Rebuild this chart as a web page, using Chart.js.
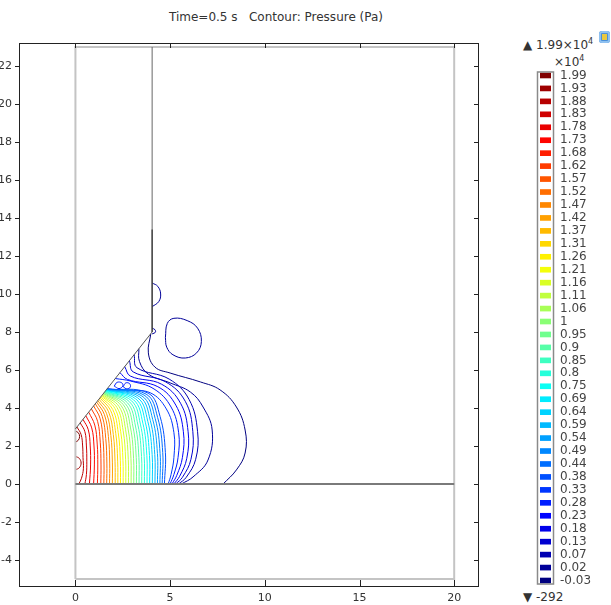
<!DOCTYPE html>
<html>
<head>
<meta charset="utf-8">
<script src="https://cdn.jsdelivr.net/npm/chart.js@4.4.0/dist/chart.umd.min.js"></script>
<style>
  body { margin: 0; background: #fff; width: 611px; height: 605px; overflow: hidden; position: relative; font-family: "DejaVu Sans", sans-serif; color: #333; }
  #plot { position: absolute; left: 0; top: 0; }
  #bar { position: absolute; left: 500px; top: 0; }
  #title { position: absolute; left: 0; top: 10px; width: 552px; text-align: center; font-size: 12px; white-space: pre; }
  .lbl { position: absolute; font-size: 12px; white-space: nowrap; }
  .lbl sup { font-size: 8px; }
  #icon { position: absolute; left: 599px; top: 31px; width: 11px; height: 12px; border-radius: 3px; background: #4a8fd8; box-shadow: inset 0 0 0 2px #8fc1f0; }
  #icon::after { content: ""; position: absolute; left: 3px; top: 3px; width: 5px; height: 6px; background: #e8c840; }
</style>
</head>
<body>
<div id="title">Time=0.5 s   Contour: Pressure (Pa)</div>
<div id="icon"></div>
<div class="lbl" id="maxLbl" style="left:523px;top:37px"></div>
<div class="lbl" style="left:554px;top:54px">×10<sup>4</sup></div>
<div class="lbl" id="minLbl" style="left:523px;top:590px"></div>
<canvas id="plot" width="500" height="605"></canvas>
<canvas id="bar" width="111" height="605"></canvas>
<script>
// axis ticks
const xTicks = [0, 5, 10, 15, 20];
const yTicks = [-4, -2, 0, 2, 4, 6, 8, 10, 12, 14, 16, 18, 20, 22];

// contour levels (x10^4 Pa), top of the colour legend first
const levels = [1.99, 1.93, 1.88, 1.83, 1.78, 1.73, 1.68, 1.62, 1.57, 1.52, 1.47, 1.42, 1.37, 1.31,
  1.26, 1.21, 1.16, 1.11, 1.06, 1, 0.95, 0.9, 0.85, 0.8, 0.75, 0.69, 0.64, 0.59, 0.54, 0.49, 0.44,
  0.38, 0.33, 0.28, 0.23, 0.18, 0.13, 0.07, 0.02, -0.03];
const pMax = 19900; // Pa
const pMin = -292;  // Pa

// geometry outline
const domainBox = [[0, -5], [20, -5], [20, 23], [0, 23], [0, -5]];
const floorLine = [[0, 0], [20, 0]];
const rampWall = [[0, 2.9], [4.05, 8]];
const upperWall = [[4.05, 8], [4.05, 23]];
const plateWall = [[4.05, 8], [4.05, 13.4]];

// high pressure lines close to the left wall
const nearWallLines = [
  { v: 1.99, pts: [[0, 2.2], [0.15, 2.3], [0.22, 2.5], [0.15, 2.7], [0, 2.78]] },
  { v: 1.93, pts: [[0, 0.75], [0.2, 0.85], [0.3, 1.1], [0.2, 1.35], [0, 1.45]] },
  { v: 1.88, pts: [[0.08, 3.0], [0.3, 2.6], [0.38, 2.0], [0.4, 1.4], [0.42, 0.8], [0.32, 0.3], [0.18, 0]] },
  { v: 1.83, pts: [[0.25, 3.22], [0.5, 2.75], [0.58, 2.0], [0.6, 1.2], [0.58, 0.5], [0.5, 0]] },
  { v: 1.78, pts: [[0.4, 3.4], [0.68, 2.85], [0.78, 2.0], [0.8, 1.0], [0.74, 0]] },
  { v: 1.73, pts: [[0.55, 3.59], [0.86, 2.95], [0.98, 2.0], [1.0, 1.0], [0.96, 0]] },
  { v: 1.68, pts: [[0.7, 3.78], [1.02, 3.1], [1.15, 2.1], [1.18, 1.0], [1.16, 0]] }
];

// the fan of lines from the ramp down to the floor
const fanLines = [
  { v: 1.62, pts: [[0.84, 3.96], [1.17, 3.3], [1.31, 2.2], [1.35, 1.0], [1.34, 0]] },
  { v: 1.57, pts: [[0.96, 4.11], [1.3, 3.45], [1.46, 2.3], [1.51, 1.0], [1.5, 0]] },
  { v: 1.52, pts: [[1.05, 4.22], [1.42, 3.55], [1.6, 2.4], [1.66, 1.1], [1.65, 0]] },
  { v: 1.47, pts: [[1.12, 4.31], [1.53, 3.65], [1.74, 2.5], [1.81, 1.1], [1.8, 0]] },
  { v: 1.42, pts: [[1.18, 4.39], [1.64, 3.72], [1.87, 2.55], [1.95, 1.15], [1.95, 0]] },
  { v: 1.37, pts: [[1.24, 4.46], [1.75, 3.8], [2.0, 2.6], [2.09, 1.2], [2.1, 0]] },
  { v: 1.31, pts: [[1.29, 4.53], [1.86, 3.86], [2.13, 2.65], [2.23, 1.2], [2.24, 0]] },
  { v: 1.26, pts: [[1.33, 4.58], [1.97, 3.92], [2.26, 2.7], [2.37, 1.25], [2.38, 0]] },
  { v: 1.21, pts: [[1.37, 4.63], [2.08, 3.98], [2.39, 2.75], [2.51, 1.25], [2.52, 0]] },
  { v: 1.16, pts: [[1.4, 4.66], [2.19, 4.03], [2.52, 2.8], [2.65, 1.3], [2.66, 0]] },
  { v: 1.11, pts: [[1.43, 4.7], [2.3, 4.08], [2.65, 2.85], [2.79, 1.3], [2.8, 0]] },
  { v: 1.06, pts: [[1.46, 4.74], [2.41, 4.13], [2.78, 2.9], [2.93, 1.35], [2.94, 0]] },
  { v: 1, pts: [[1.48, 4.76], [2.52, 4.18], [2.91, 2.95], [3.07, 1.35], [3.08, 0]] },
  { v: 0.95, pts: [[1.5, 4.79], [2.63, 4.23], [3.04, 3.0], [3.21, 1.4], [3.22, 0]] },
  { v: 0.9, pts: [[1.52, 4.82], [2.74, 4.28], [3.17, 3.05], [3.35, 1.4], [3.36, 0]] },
  { v: 0.85, pts: [[1.54, 4.84], [2.85, 4.33], [3.3, 3.1], [3.49, 1.45], [3.5, 0]] },
  { v: 0.8, pts: [[1.56, 4.87], [2.96, 4.38], [3.43, 3.15], [3.63, 1.45], [3.64, 0]] },
  { v: 0.75, pts: [[1.58, 4.89], [3.07, 4.43], [3.56, 3.2], [3.77, 1.5], [3.78, 0]] },
  { v: 0.69, pts: [[1.6, 4.92], [3.18, 4.48], [3.69, 3.25], [3.91, 1.5], [3.92, 0]] },
  { v: 0.64, pts: [[1.61, 4.93], [3.29, 4.53], [3.82, 3.3], [4.05, 1.55], [4.06, 0]] },
  { v: 0.59, pts: [[1.62, 4.94], [3.4, 4.58], [3.95, 3.35], [4.19, 1.55], [4.2, 0]] },
  { v: 0.54, pts: [[1.63, 4.95], [3.51, 4.63], [4.08, 3.4], [4.33, 1.6], [4.33, 0]] },
  { v: 0.49, pts: [[1.64, 4.97], [3.62, 4.68], [4.21, 3.45], [4.47, 1.6], [4.46, 0]] },
  { v: 0.44, pts: [[1.65, 4.98], [3.73, 4.73], [4.34, 3.5], [4.61, 1.65], [4.58, 0]] },
  { v: 0.38, pts: [[1.66, 4.99], [3.84, 4.78], [4.47, 3.55], [4.75, 1.65], [4.7, 0]] }
];

// wider low pressure arcs further out
const outerArcs = [
  { v: 0.33, pts: [[1.68, 5.02], [2.7, 4.92], [3.95, 4.8], [4.8, 3.95], [5.2, 2.7], [5.2, 1.4], [5.05, 0.5], [4.9, 0]] },
  { v: 0.28, pts: [[2.1, 5.55], [2.9, 5.42], [4.15, 5.0], [5.05, 4.05], [5.45, 2.7], [5.42, 1.4], [5.2, 0.5], [5.0, 0]] },
  { v: 0.23, pts: [[2.35, 5.86], [2.75, 5.5], [4.35, 5.12], [5.3, 4.15], [5.7, 2.75], [5.65, 1.4], [5.35, 0.45], [5.1, 0]] },
  { v: 0.18, pts: [[2.6, 6.18], [2.9, 5.68], [4.55, 5.25], [5.55, 4.25], [5.95, 2.75], [5.88, 1.35], [5.5, 0.4], [5.2, 0]] },
  { v: 0.13, pts: [[2.85, 6.49], [3.05, 5.9], [4.75, 5.38], [5.8, 4.35], [6.2, 2.75], [6.1, 1.3], [5.65, 0.35], [5.3, 0]] },
  { v: 0.07, pts: [[3.1, 6.8], [3.25, 6.12], [4.95, 5.52], [6.0, 4.45], [6.45, 2.75], [6.35, 1.3], [5.85, 0.35], [5.45, 0]] },
  { v: 0.02, pts: [[3.35, 7.12], [3.38, 6.45], [3.85, 5.78], [5.0, 5.32], [6.07, 4.84], [6.74, 4.05], [7.22, 2.84], [7.0, 1.26], [6.21, 0.37], [5.6, 0]] },
  { v: -0.03, pts: [[3.98, 7.9], [3.85, 6.9], [4.2, 6.15], [5.0, 5.84], [6.6, 5.37], [7.64, 4.95], [8.5, 4.05], [8.96, 2.84], [8.96, 1.63], [8.5, 0.74], [7.8, 0]] }
];

// small closed and wall-attached loops
const loops = [
  { v: 0.28, pts: [[2.05, 5.15], [2.2, 5.35], [2.45, 5.32], [2.5, 5.15], [2.3, 5.02], [2.05, 5.15]] },
  { v: 0.28, pts: [[2.52, 5.12], [2.66, 5.32], [2.86, 5.28], [2.9, 5.1], [2.72, 5.0], [2.52, 5.12]] },
  { v: 0.02, pts: [[4.75, 7.7], [4.85, 8.45], [5.2, 8.72], [5.9, 8.6], [6.45, 8.2], [6.65, 7.5], [6.4, 6.9], [5.8, 6.63], [5.15, 6.8], [4.82, 7.2], [4.75, 7.7]] },
  { v: 0.02, pts: [[4.05, 10.58], [4.35, 10.4], [4.5, 10.0], [4.4, 9.6], [4.05, 9.33]] },
  { v: 0.02, pts: [[4.05, 8.2], [4.2, 8.12], [4.22, 7.98], [4.05, 7.9]] }
];

const vTop = levels[0];
const vBottom = levels[levels.length - 1];
const fontSpec = { family: '"DejaVu Sans", sans-serif', size: 11 };

document.getElementById('maxLbl').innerHTML = '▲ ' + (pMax / 1e4).toFixed(2) + '×10<sup>4</sup>';
document.getElementById('minLbl').textContent = '▼ ' + pMin;

// rainbow colour table used by the legend and the lines
function clamp(a) { return Math.max(0, Math.min(1, a)); }
function jet(v) {
  const t = (v - vBottom) / (vTop - vBottom);
  const r = clamp(1.5 - Math.abs(4 * t - 3));
  const g = clamp(1.5 - Math.abs(4 * t - 2));
  const b = clamp(1.5 - Math.abs(4 * t - 1));
  return `rgb(${Math.round(r * 255)},${Math.round(g * 255)},${Math.round(b * 255)})`;
}

function toXY(pts) { return pts.map(p => ({ x: p[0], y: p[1] })); }

function outline(pts, color, width) {
  return { data: toXY(pts), borderColor: color, borderWidth: width, showLine: true, pointRadius: 0, tension: 0 };
}

function contour(c) {
  return { data: toXY(c.pts), borderColor: jet(c.v), borderWidth: 1, showLine: true, pointRadius: 0, tension: 0.4 };
}

const datasets = [
  outline(floorLine, '#7a7a7a', 2),
  outline(plateWall, '#333', 1.2),
  outline(upperWall, '#666', 1),
  outline(rampWall, '#555', 1),
  outline(domainBox, '#c4c4c4', 2)
].concat(
  nearWallLines.map(contour),
  fanLines.map(contour),
  outerArcs.map(contour),
  loops.map(contour)
);

// black frame with small tick marks on all four sides
const frame = {
  id: 'frame',
  afterDraw(chart) {
    const { ctx, chartArea: a, scales: { x, y } } = chart;
    ctx.save();
    ctx.strokeStyle = '#222';
    ctx.lineWidth = 1;
    ctx.strokeRect(a.left + 0.5, a.top + 0.5, a.right - a.left - 1, a.bottom - a.top);
    ctx.beginPath();
    xTicks.forEach(v => {
      const px = Math.round(x.getPixelForValue(v)) + 0.5;
      ctx.moveTo(px, a.bottom); ctx.lineTo(px, a.bottom - 6);
      ctx.moveTo(px, a.top); ctx.lineTo(px, a.top + 5);
    });
    yTicks.forEach(v => {
      const py = Math.round(y.getPixelForValue(v)) + 0.5;
      ctx.moveTo(a.left - 4, py); ctx.lineTo(a.left + 1, py);
      ctx.moveTo(a.right, py); ctx.lineTo(a.right - 5, py);
    });
    ctx.stroke();
    ctx.restore();
  }
};

new Chart(document.getElementById('plot'), {
  type: 'scatter',
  data: { datasets },
  options: {
    responsive: false,
    animation: false,
    layout: { padding: { top: 43, right: 21, left: 0, bottom: 0 } },
    scales: {
      x: {
        type: 'linear', min: -2.98, max: 21.31,
        grid: { display: false, drawTicks: false },
        border: { display: false },
        ticks: { font: fontSpec, color: '#333', padding: 6 },
        afterBuildTicks: s => { s.ticks = xTicks.map(v => ({ value: v })); },
        afterFit: s => { s.height = 19; }
      },
      y: {
        type: 'linear', min: -5.37, max: 23.21,
        grid: { display: false, drawTicks: false },
        border: { display: false },
        ticks: { font: fontSpec, color: '#333', padding: 7 },
        afterBuildTicks: s => { s.ticks = yTicks.map(v => ({ value: v })); },
        afterFit: s => { s.width = 19; }
      }
    },
    plugins: { legend: { display: false }, tooltip: { enabled: false } }
  },
  plugins: [frame]
});

// grey box around the colour legend
const legendBox = {
  id: 'legendBox',
  afterDraw(chart) {
    const { ctx, chartArea: a, scales: { y } } = chart;
    const top = y.getPixelForValue(0) - 3.5;
    const bottom = y.getPixelForValue(levels.length - 1) + 3.5;
    ctx.save();
    ctx.strokeStyle = '#8a8a8a';
    ctx.lineWidth = 1.5;
    ctx.strokeRect(a.left - 2.5, top, a.right - a.left + 5, bottom - top);
    ctx.restore();
  }
};

new Chart(document.getElementById('bar'), {
  type: 'bar',
  data: {
    labels: levels.map(String),
    datasets: [{ data: levels.map(() => 1), backgroundColor: levels.map(jet), barThickness: 5 }]
  },
  options: {
    indexAxis: 'y',
    responsive: false,
    animation: false,
    layout: { padding: { left: 40, top: 69, bottom: 18, right: 0 } },
    scales: {
      x: { display: false, min: 0, max: 1 },
      y: {
        position: 'right',
        grid: { display: false, drawTicks: false },
        border: { display: false },
        ticks: { autoSkip: false, padding: 9, color: '#444', font: { family: '"DejaVu Sans", sans-serif', size: 12 } },
        afterFit: s => { s.width = 60; }
      }
    },
    plugins: { legend: { display: false }, tooltip: { enabled: false } }
  },
  plugins: [legendBox]
});
</script>
</body>
</html>
